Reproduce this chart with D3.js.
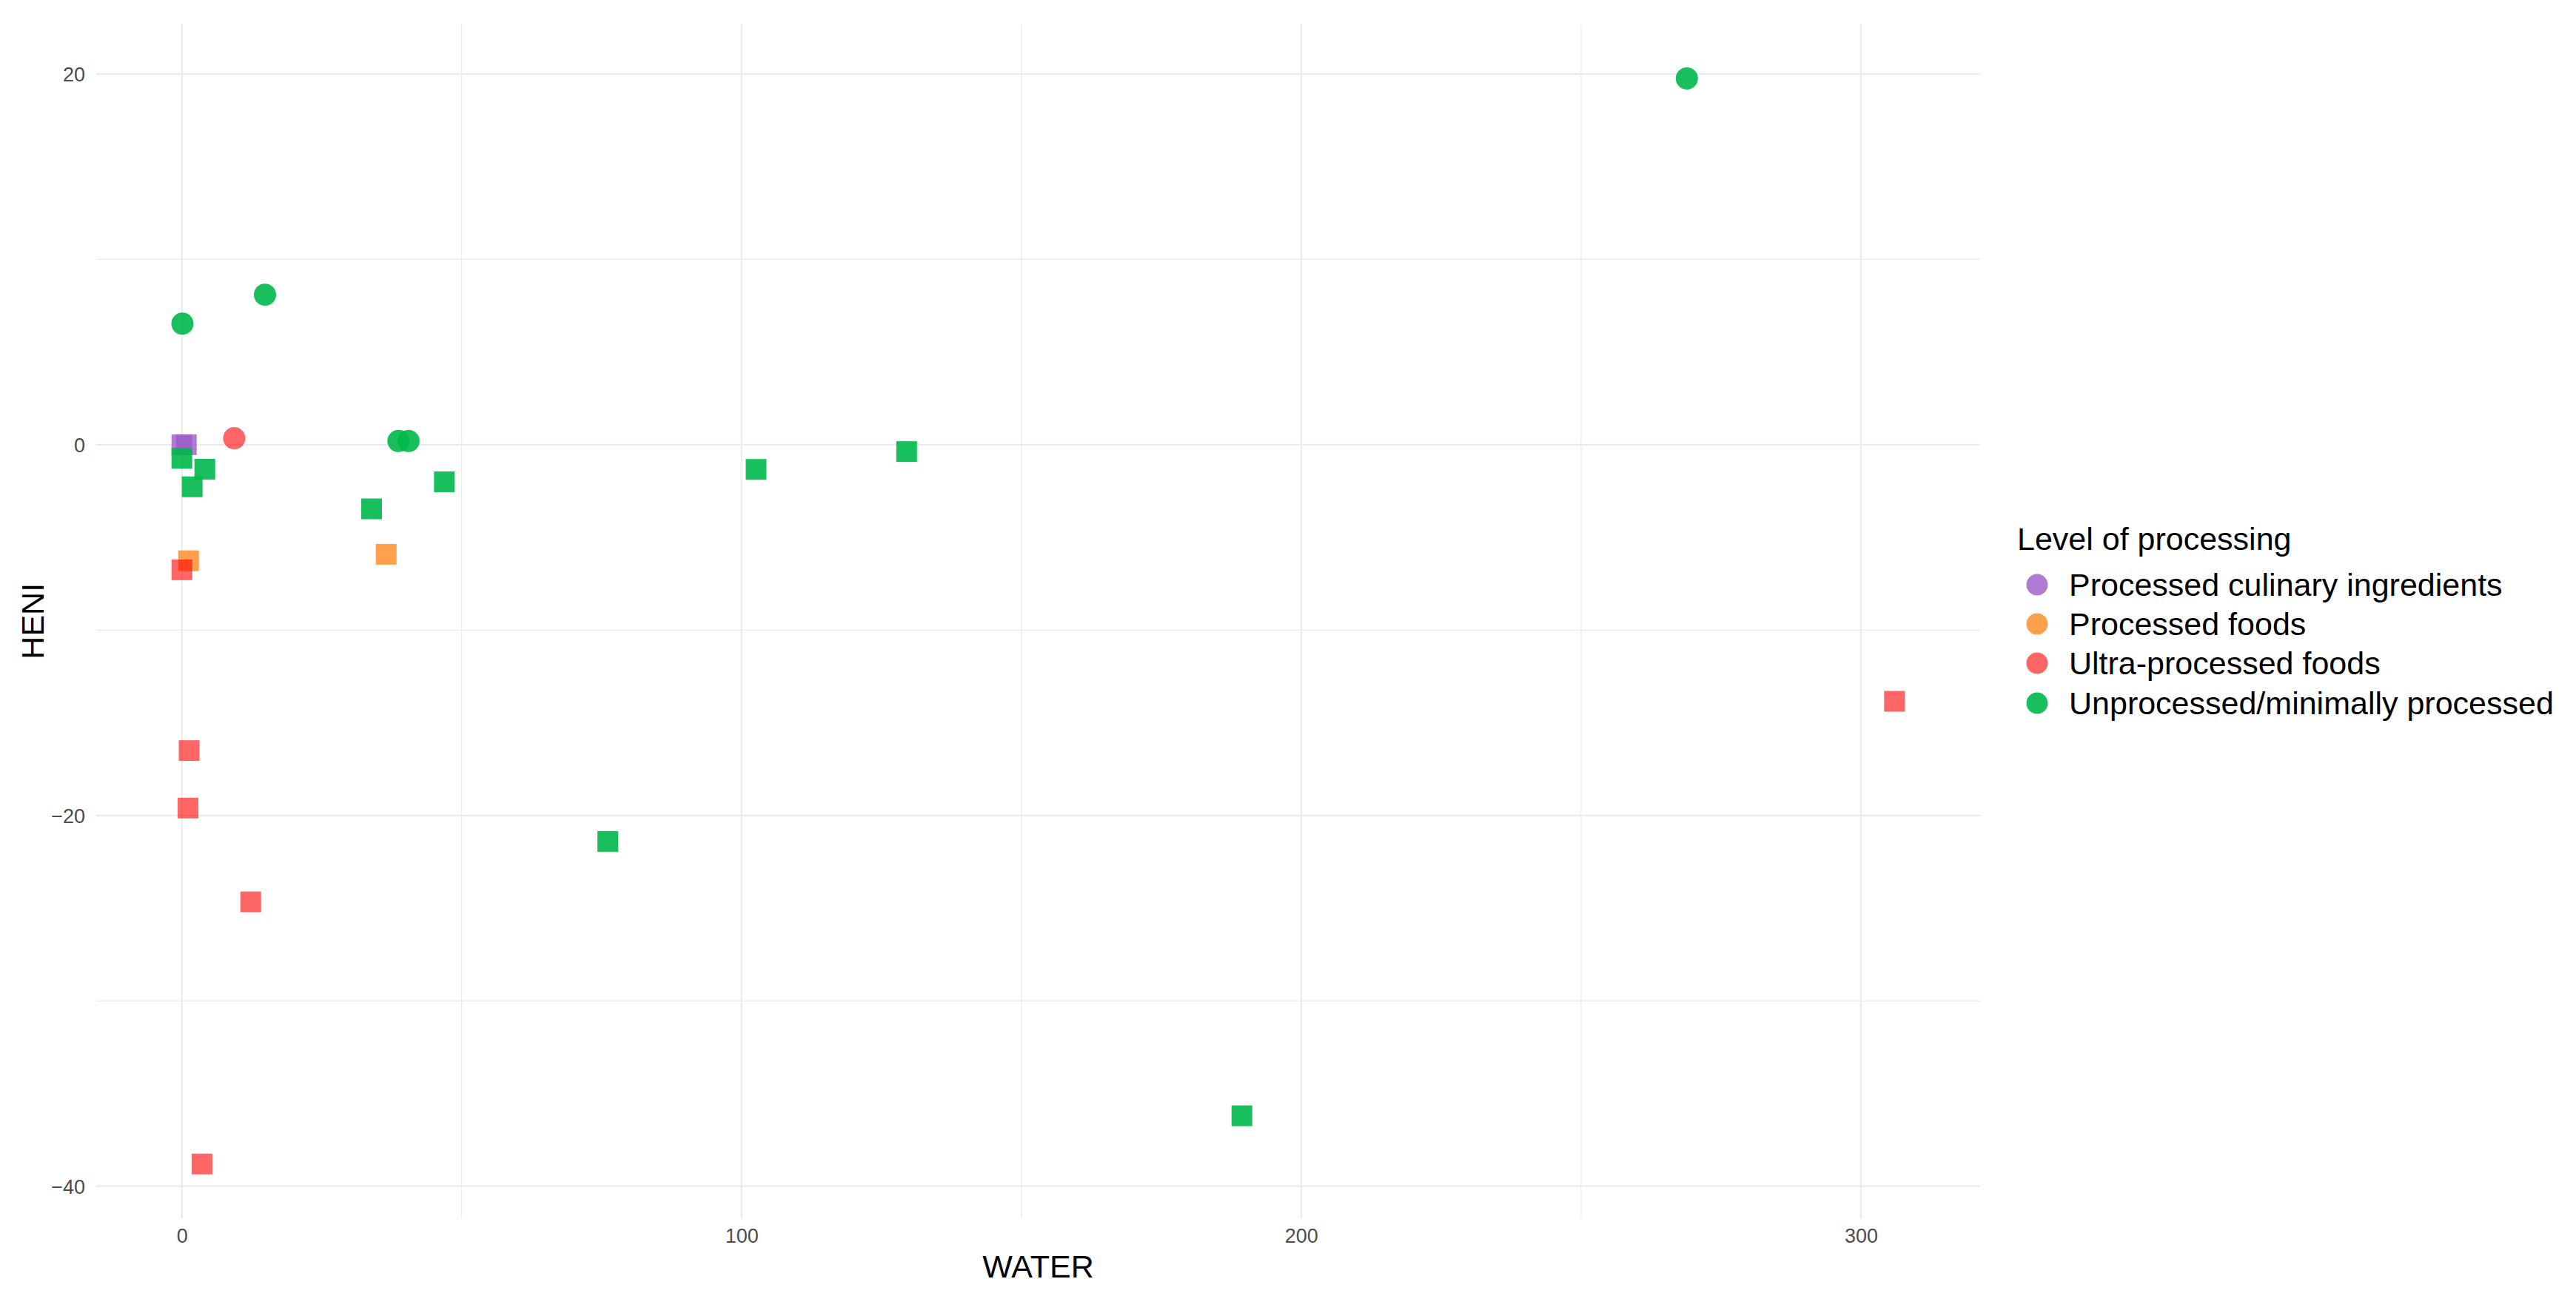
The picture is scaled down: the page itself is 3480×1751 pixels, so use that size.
<!DOCTYPE html>
<html>
<head>
<meta charset="utf-8">
<script src="https://cdn.jsdelivr.net/npm/d3@7"></script>
<style>
  html, body { margin: 0; padding: 0; background: #ffffff; }
  svg { display: block; }
</style>
</head>
<body>
<script>
// ---- data ----
const categories = ["Processed culinary ingredients", "Processed foods", "Ultra-processed foods", "Unprocessed/minimally processed"];
const categoryColors = ["#9C5BC8", "#FF8A1F", "#FF0000", "#00B84A"];
const categoryOpacity = [0.8, 0.8, 0.6, 0.9];

// [WATER, HENI, shape]
const culinaryPoints = [
  [0.0, 0.0, "square"],
  [0.8, 0.0, "square"]
];
const processedPoints = [
  [1.2, -6.26, "square"],
  [36.5, -5.91, "square"]
];
const ultraPoints = [
  [9.35, 0.35, "circle"],
  [0.0, -6.75, "square"],
  [1.3, -16.5, "square"],
  [1.1, -19.6, "square"],
  [12.3, -24.66, "square"],
  [3.6, -38.8, "square"],
  [306.0, -13.84, "square"]
];
const unprocessedPoints = [
  [0.1, 6.53, "circle"],
  [14.85, 8.09, "circle"],
  [38.7, 0.2, "circle"],
  [40.5, 0.2, "circle"],
  [268.9, 19.76, "circle"],
  [0.0, -0.73, "square"],
  [4.1, -1.32, "square"],
  [1.85, -2.27, "square"],
  [33.9, -3.46, "square"],
  [46.9, -2.0, "square"],
  [102.6, -1.33, "square"],
  [129.5, -0.37, "square"],
  [76.1, -21.4, "square"],
  [189.4, -36.2, "square"]
];
const seriesPoints = [culinaryPoints, processedPoints, ultraPoints, unprocessedPoints];

const xTickLabels = [0, 100, 200, 300];
const xGridValues = [0, 50, 100, 150, 200, 250, 300];
const yTickLabels = [-40, -20, 0, 20];
const yGridValues = [-40, -30, -20, -10, 0, 10, 20];

const xTitle = "WATER";
const yTitle = "HENI";
const legendTitle = "Level of processing";

// ---- layout ----
const W = 3480, H = 1751;
const panel = { left: 130, right: 2675, top: 32.6, bottom: 1646 };
const FONT = "'Liberation Sans', Arial, Helvetica, sans-serif";

const all = seriesPoints.flat();
const xExt = d3.extent(all, d => d[0]);
const yExt = d3.extent(all, d => d[1]);
const xPad = (xExt[1] - xExt[0]) * 0.05;
const yPad = (yExt[1] - yExt[0]) * 0.05;

const x = d3.scaleLinear().domain([xExt[0] - xPad, xExt[1] + xPad]).range([panel.left, panel.right]);
const y = d3.scaleLinear().domain([yExt[0] - yPad, yExt[1] + yPad]).range([panel.bottom, panel.top]);

const svg = d3.select("body").append("svg").attr("width", W).attr("height", H)
  .style("font-family", FONT);

svg.append("rect").attr("width", W).attr("height", H).attr("fill", "#ffffff");

// grid
const grid = svg.append("g");
grid.selectAll("line.vx").data(xGridValues).enter().append("line")
  .attr("x1", d => x(d)).attr("x2", d => x(d))
  .attr("y1", panel.top).attr("y2", panel.bottom)
  .attr("stroke", "#EBEBEB")
  .attr("stroke-width", d => xTickLabels.includes(d) ? 2.2 : 1.3);
grid.selectAll("line.hy").data(yGridValues).enter().append("line")
  .attr("y1", d => y(d)).attr("y2", d => y(d))
  .attr("x1", panel.left).attr("x2", panel.right)
  .attr("stroke", "#EBEBEB")
  .attr("stroke-width", d => yTickLabels.includes(d) ? 2.2 : 1.3);

// axes (labels only, ggplot minimal style)
const xAxis = d3.axisBottom(x).tickValues(xTickLabels).tickSize(0).tickPadding(0).tickFormat(d3.format("d"));
const gx = svg.append("g").attr("transform", `translate(0,${panel.bottom + 14})`).call(xAxis);
gx.select(".domain").remove();
gx.selectAll("text").attr("font-size", 27).attr("fill", "#4D4D4D").attr("font-family", FONT)
  .attr("dy", "0.71em");

const yAxis = d3.axisLeft(y).tickValues(yTickLabels).tickSize(0).tickPadding(0).tickFormat(d3.format("d"));
const gy = svg.append("g").attr("transform", `translate(${panel.left - 15},0)`).call(yAxis);
gy.select(".domain").remove();
gy.selectAll("text").attr("font-size", 27).attr("fill", "#4D4D4D").attr("font-family", FONT)
  .attr("dy", "0.35em");

// axis titles
svg.append("text").attr("x", (panel.left + panel.right) / 2).attr("y", 1726)
  .attr("text-anchor", "middle").attr("font-size", 43).attr("fill", "#000").text(xTitle);
svg.append("text")
  .attr("transform", `translate(59,${(panel.top + panel.bottom) / 2}) rotate(-90)`)
  .attr("text-anchor", "middle").attr("font-size", 43).attr("fill", "#000").text(yTitle);

// points
const S = 28;
const sq = d3.symbol().type(d3.symbolSquare).size(S * S);
const ci = d3.symbol().type(d3.symbolCircle).size(Math.PI * (S / 2 + 1) * (S / 2 + 1));
const pts = svg.append("g");
seriesPoints.forEach((arr, i) => {
  pts.append("g").selectAll("path").data(arr).enter().append("path")
    .attr("d", d => d[2] === "circle" ? ci() : sq())
    .attr("transform", d => `translate(${x(d[0])},${y(d[1])})`)
    .attr("fill", categoryColors[i])
    .attr("fill-opacity", categoryOpacity[i]);
});

// legend
const lg = svg.append("g");
lg.append("text").attr("x", 2725).attr("y", 728).attr("dy", "0.35em")
  .attr("font-size", 43).attr("fill", "#000").text(legendTitle);
const legendY = [790, 843, 896, 950];
categories.forEach((c, i) => {
  lg.append("circle").attr("cx", 2752).attr("cy", legendY[i]).attr("r", 14.5)
    .attr("fill", categoryColors[i]).attr("fill-opacity", categoryOpacity[i]);
  lg.append("text").attr("x", 2795).attr("y", legendY[i]).attr("dy", "0.35em")
    .attr("font-size", 43).attr("fill", "#000").text(c);
});
</script>
</body>
</html>
